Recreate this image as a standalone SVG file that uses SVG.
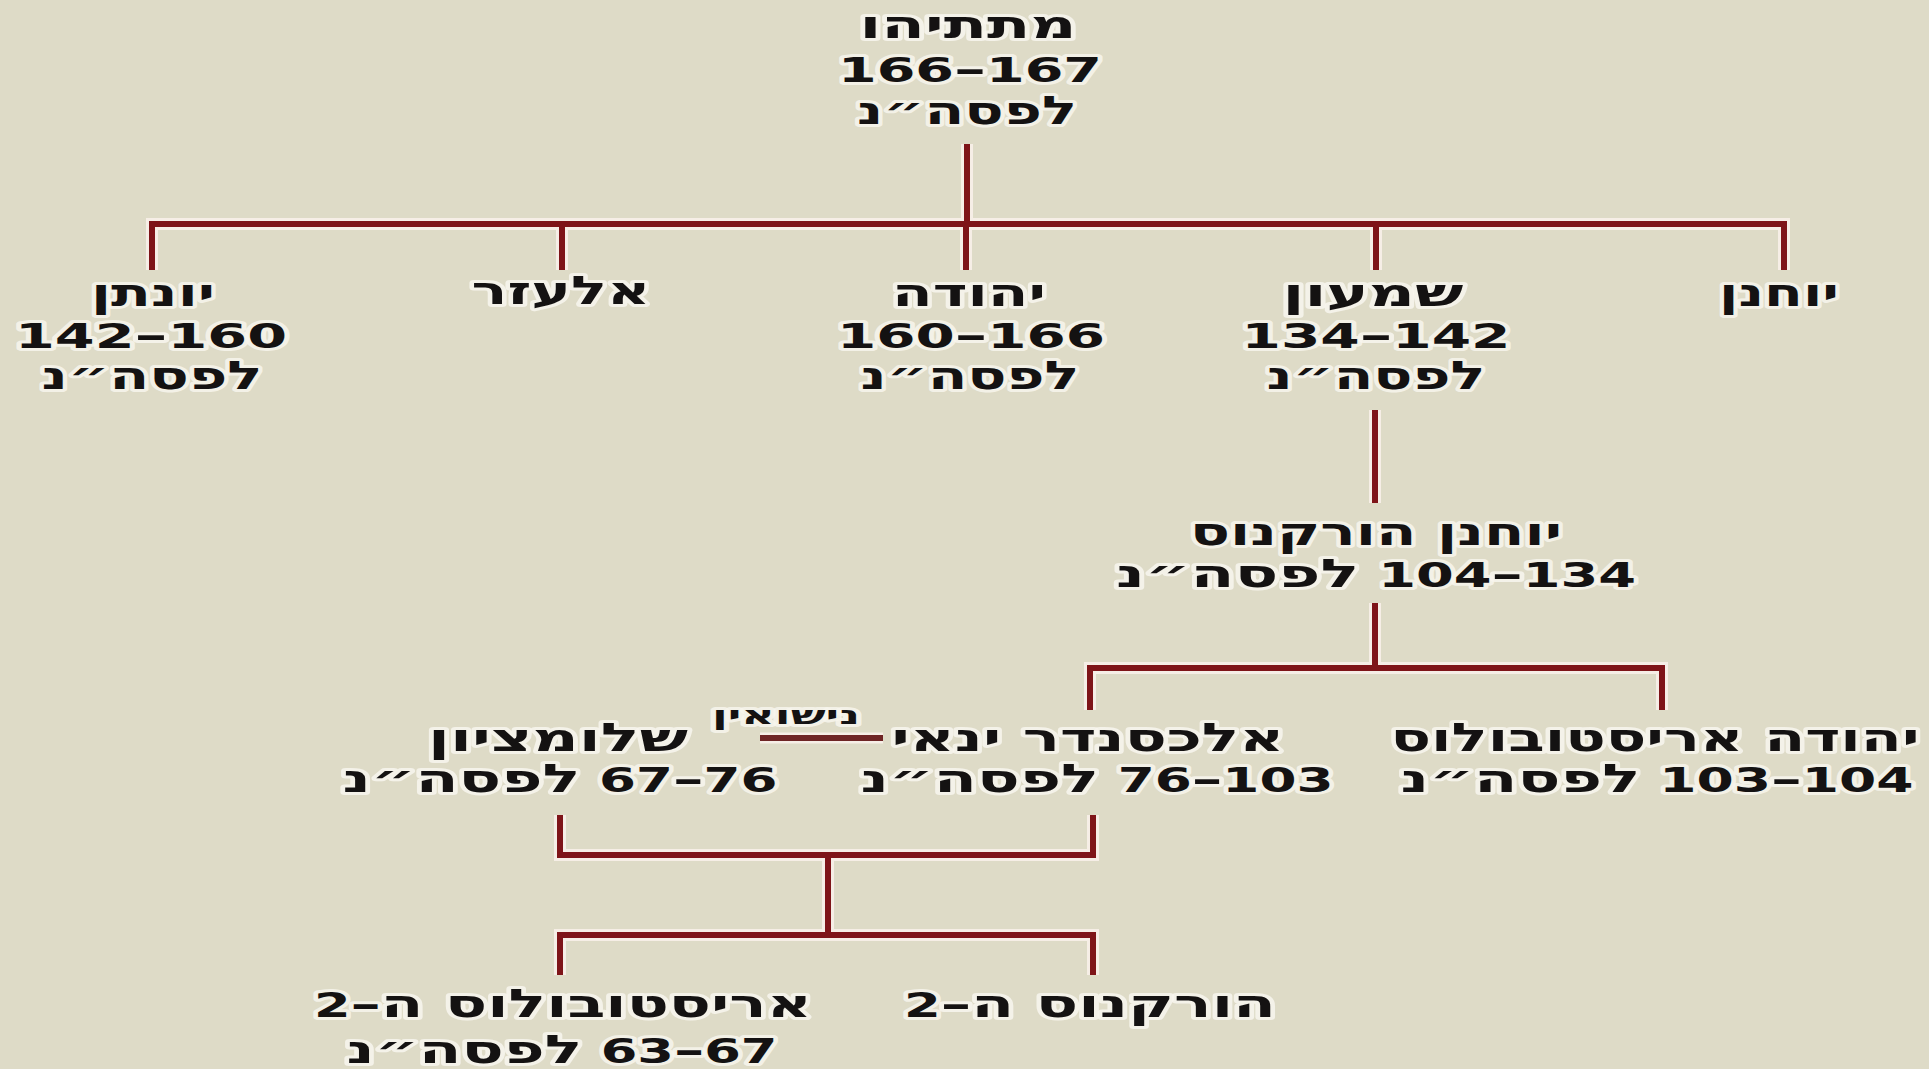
<svg xmlns="http://www.w3.org/2000/svg" width="1929" height="1069" viewBox="0 0 1929 1069">
<style>
.bg{fill:#dedbc7}
.t{font-family:"DejaVu Sans","Liberation Sans",sans-serif;font-weight:bold;font-size:33px;fill:#141212;text-anchor:middle;direction:rtl;stroke:#f8f6ee;stroke-width:6px;stroke-linejoin:round;stroke-opacity:0.85;paint-order:stroke}
.h{font-size:39px}
.d{font-size:38px}
.s{font-size:25px}
.halo{stroke:#f6eee6;stroke-width:12;fill:none;stroke-linecap:butt}
.ln{stroke:#7e1418;stroke-width:6;fill:none;stroke-linecap:butt}
.mar{stroke:#6e2424;stroke-width:6}
</style>
<defs>
<g id="wires">
<path d="M967,144V227"/>
<path d="M152,270V224H1784V270"/>
<path d="M562,224V270"/>
<path d="M966,224V270"/>
<path d="M1376,224V270"/>
<path d="M1375,410V503"/>
<path d="M1375,603V668"/>
<path d="M1090,710V668H1662V710"/>
<path d="M560,815V855H1093V815"/>
<path d="M828,855V935"/>
<path d="M560,975V935H1093V975"/>
</g>
</defs>
<rect class="bg" x="0" y="0" width="1929" height="1069"/>
<g id="connectors">
<use href="#wires" class="halo"/>
<use href="#wires" class="ln"/>
<line x1="760" y1="738" x2="883" y2="738" class="halo" style="stroke-width:11"/>
<line x1="760" y1="738" x2="883" y2="738" class="ln mar"/>
</g>
<g id="n-mattathias">
<text class="t h" x="968" y="38" textLength="217" lengthAdjust="spacingAndGlyphs">מתתיהו</text>
<text class="t" x="970" y="82" textLength="264" lengthAdjust="spacingAndGlyphs">167<tspan class="d">–</tspan>166</text>
<text class="t h" x="967" y="124" textLength="220" lengthAdjust="spacingAndGlyphs">לפסה״נ</text>
</g>
<g id="n-jonathan">
<text class="t h" x="153" y="306" textLength="124" lengthAdjust="spacingAndGlyphs">יונתן</text>
<text class="t" x="151" y="348" textLength="272" lengthAdjust="spacingAndGlyphs">160<tspan class="d">–</tspan>142</text>
<text class="t h" x="152" y="389" textLength="221" lengthAdjust="spacingAndGlyphs">לפסה״נ</text>
</g>
<g id="n-elazar">
<text class="t h" x="561" y="304" textLength="179" lengthAdjust="spacingAndGlyphs">אלעזר</text>
</g>
<g id="n-yehuda">
<text class="t h" x="969" y="306" textLength="154" lengthAdjust="spacingAndGlyphs">יהודה</text>
<text class="t" x="971" y="348" textLength="268" lengthAdjust="spacingAndGlyphs">166<tspan class="d">–</tspan>160</text>
<text class="t h" x="970" y="389" textLength="219" lengthAdjust="spacingAndGlyphs">לפסה״נ</text>
</g>
<g id="n-shimon">
<text class="t h" x="1373" y="306" textLength="181" lengthAdjust="spacingAndGlyphs">שמעון</text>
<text class="t" x="1376" y="348" textLength="269" lengthAdjust="spacingAndGlyphs">142<tspan class="d">–</tspan>134</text>
<text class="t h" x="1376" y="389" textLength="219" lengthAdjust="spacingAndGlyphs">לפסה״נ</text>
</g>
<g id="n-yochanan">
<text class="t h" x="1779" y="306" textLength="120" lengthAdjust="spacingAndGlyphs">יוחנן</text>
</g>
<g id="n-hyrcanus">
<text class="t h" x="1376" y="545" textLength="372" lengthAdjust="spacingAndGlyphs">יוחנן הורקנוס</text>
<text class="t" x="1376" y="587" textLength="520" lengthAdjust="spacingAndGlyphs">134<tspan class="d">–</tspan>104 <tspan class="h">לפסה״נ</tspan></text>
</g>
<g id="n-shlomtzion">
<text class="t h" x="558" y="751" textLength="260" lengthAdjust="spacingAndGlyphs">שלומציון</text>
<text class="t" x="560" y="792" textLength="435" lengthAdjust="spacingAndGlyphs">76<tspan class="d">–</tspan>67 <tspan class="h">לפסה״נ</tspan></text>
</g>
<g id="n-marriage">
<text class="t s" x="786" y="724" textLength="148" lengthAdjust="spacingAndGlyphs">נישואין</text>
</g>
<g id="n-alexander">
<text class="t h" x="1088" y="751" textLength="393" lengthAdjust="spacingAndGlyphs">אלכסנדר ינאי</text>
<text class="t" x="1097" y="792" textLength="473" lengthAdjust="spacingAndGlyphs">103<tspan class="d">–</tspan>76 <tspan class="h">לפסה״נ</tspan></text>
</g>
<g id="n-yehuda-aristobulus">
<text class="t h" x="1655" y="751" textLength="529" lengthAdjust="spacingAndGlyphs">יהודה אריסטובולוס</text>
<text class="t" x="1657" y="792" textLength="513" lengthAdjust="spacingAndGlyphs">104<tspan class="d">–</tspan>103 <tspan class="h">לפסה״נ</tspan></text>
</g>
<g id="n-aristobulus2">
<text class="t" x="563" y="1017" textLength="498" lengthAdjust="spacingAndGlyphs"><tspan class="h">אריסטובולוס ה</tspan><tspan class="d">–</tspan>2</text>
<text class="t" x="562" y="1063" textLength="431" lengthAdjust="spacingAndGlyphs">67<tspan class="d">–</tspan>63 <tspan class="h">לפסה״נ</tspan></text>
</g>
<g id="n-hyrcanus2">
<text class="t" x="1090" y="1017" textLength="372" lengthAdjust="spacingAndGlyphs"><tspan class="h">הורקנוס ה</tspan><tspan class="d">–</tspan>2</text>
</g>
</svg>
